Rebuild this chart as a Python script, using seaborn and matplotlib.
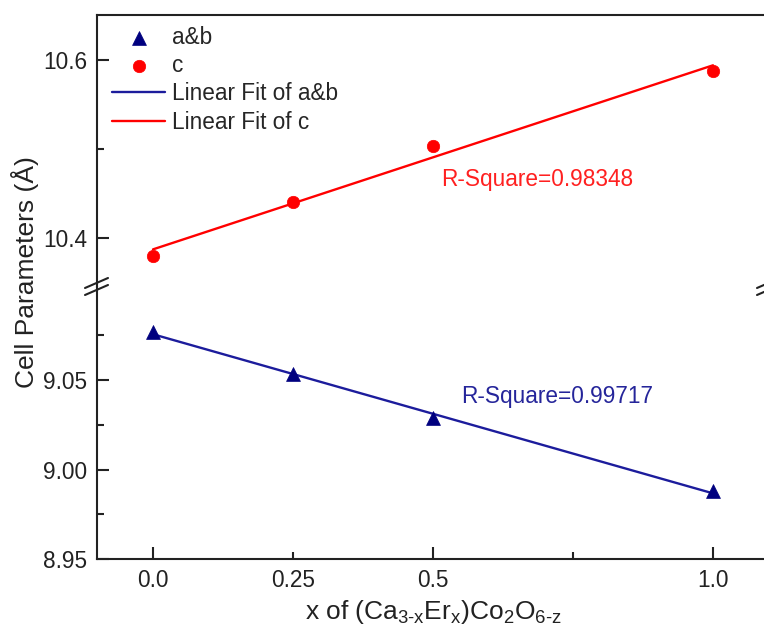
import numpy as np
import pandas as pd
import matplotlib.pyplot as plt
import seaborn as sns
from matplotlib.lines import Line2D

# values
x_vals = [0.0, 0.25, 0.5, 1.0]
ab_vals = [9.0768, 9.0534, 9.0287, 8.9879]
c_vals = [10.380, 10.440, 10.503, 10.587]
r2_ab = "R-Square=0.99717"
r2_c = "R-Square=0.98348"

sns.set_style("ticks")
plt.rcParams['font.family'] = ['Liberation Sans', 'DejaVu Sans']
plt.rcParams['mathtext.fontset'] = 'custom'
plt.rcParams['mathtext.rm'] = 'Liberation Sans'
plt.rcParams['mathtext.default'] = 'regular'

navy = '#00007f'
blue = '#1c1c9c'
red = '#ff0000'
fs = 16.3

df = pd.DataFrame({'x': x_vals, 'ab': ab_vals, 'c': c_vals})

W, H = 764, 630
fig = plt.figure(figsize=(W / 100, H / 100), dpi=100)

# pixel layout of the broken axis
left, right, top, brk, bottom = 97, 769, 15, 287, 559
fx = lambda px: px / W
fy = lambda py: 1 - py / H
ax_top = fig.add_axes([fx(left), fy(brk), fx(right) - fx(left), fy(top) - fy(brk)])
ax_bot = fig.add_axes([fx(left), fy(bottom), fx(right) - fx(left), fy(brk) - fy(bottom)])

# points and linear fits
sns.scatterplot(data=df, x='x', y='ab', marker='^', s=100, color=navy, edgecolor=navy,
                linewidth=0.5, ax=ax_bot, label='a&b', zorder=3)
sns.regplot(data=df, x='x', y='ab', scatter=False, ci=None, color=blue, ax=ax_bot,
            line_kws={'lw': 1.7})
fit_ab = ax_bot.lines[-1]
fit_ab.set_label('Linear Fit of a&b')
sns.scatterplot(data=df, x='x', y='c', marker='o', s=80, color=red, edgecolor=red,
                linewidth=0.5, ax=ax_top, label='c', zorder=3)
sns.regplot(data=df, x='x', y='c', scatter=False, ci=None, color=red, ax=ax_top,
            line_kws={'lw': 1.7})
fit_c = ax_top.lines[-1]
fit_c.set_label('Linear Fit of c')

for ax in (ax_top, ax_bot):
    ax.set_xlim(-0.1, 1.1)
    ax.set_xlabel('')
    ax.set_ylabel('')
    for s in ax.spines.values():
        s.set_linewidth(1.5)
        s.set_color('#222222')
    ax.tick_params(which='both', direction='in', width=1.5, labelsize=fs,
                   colors='#222222', pad=7)
    ax.tick_params(which='major', length=8.5)
    ax.tick_params(which='minor', length=5)
    if ax.get_legend() is not None:
        ax.get_legend().remove()

ax_top.spines['bottom'].set_visible(False)
ax_bot.spines['top'].set_visible(False)
ax_top.tick_params(axis='x', which='both', bottom=False, labelbottom=False)

ax_top.set_ylim(10.345, 10.65)
ax_top.set_yticks([10.4, 10.6])
ax_top.set_yticklabels(['10.4', '10.6'])
ax_top.set_yticks([10.5], minor=True)

ax_bot.set_ylim(8.95, 9.102)
ax_bot.set_yticks([8.95, 9.00, 9.05])
ax_bot.set_yticklabels(['8.95', '9.00', '9.05'])
ax_bot.set_yticks([8.975, 9.025, 9.075], minor=True)

ax_bot.set_xticks([0.0, 0.5, 1.0])
ax_bot.set_xticklabels(['0.0', '0.5', '1.0'])
ax_bot.set_xticks([0.25, 0.75], minor=True)
ax_bot.set_xticklabels(['0.25', ''], minor=True)

# R-square notes
ax_top.text(0.514, 10.466, r2_c, color='#ff2020', fontsize=fs, ha='left', va='center')
ax_bot.text(0.55, 9.041, r2_ab, color='#25259a', fontsize=fs, ha='left', va='center')

# break marks on the axis
for bx in (left, right):
    for dy in (-4, 3):
        fig.add_artist(Line2D([fx(bx - 12), fx(bx + 11)], [fy(brk + dy + 5), fy(brk + dy - 5)],
                              color='#222222', lw=1.5))

# legend
handles, labels = [], []
for ax in (ax_top, ax_bot):
    h, l = ax.get_legend_handles_labels()
    handles += h
    labels += l
lookup = dict(zip(labels, handles))
lookup['Linear Fit of a&b'] = fit_ab
lookup['Linear Fit of c'] = fit_c
order = ['a&b', 'c', 'Linear Fit of a&b', 'Linear Fit of c']
fig.legend([lookup[k] for k in order], order, loc='upper left',
           bbox_to_anchor=(fx(112), fy(26)), frameon=False, fontsize=fs,
           borderpad=0, borderaxespad=0, handlelength=2.35, handletextpad=0.3,
           labelspacing=0.23)

fig.text(fx(25), fy(272), 'Cell Parameters (Å)', rotation=90, ha='center', va='center',
         fontsize=19, color='#222222')
fig.text(fx(433), fy(619), r'x of (Ca$_{3\text{-}x}$Er$_x$)Co$_2$O$_{6\text{-}z}$', ha='center',
         va='baseline', fontsize=19, color='#222222')

fig.savefig('out.png', dpi=100)
